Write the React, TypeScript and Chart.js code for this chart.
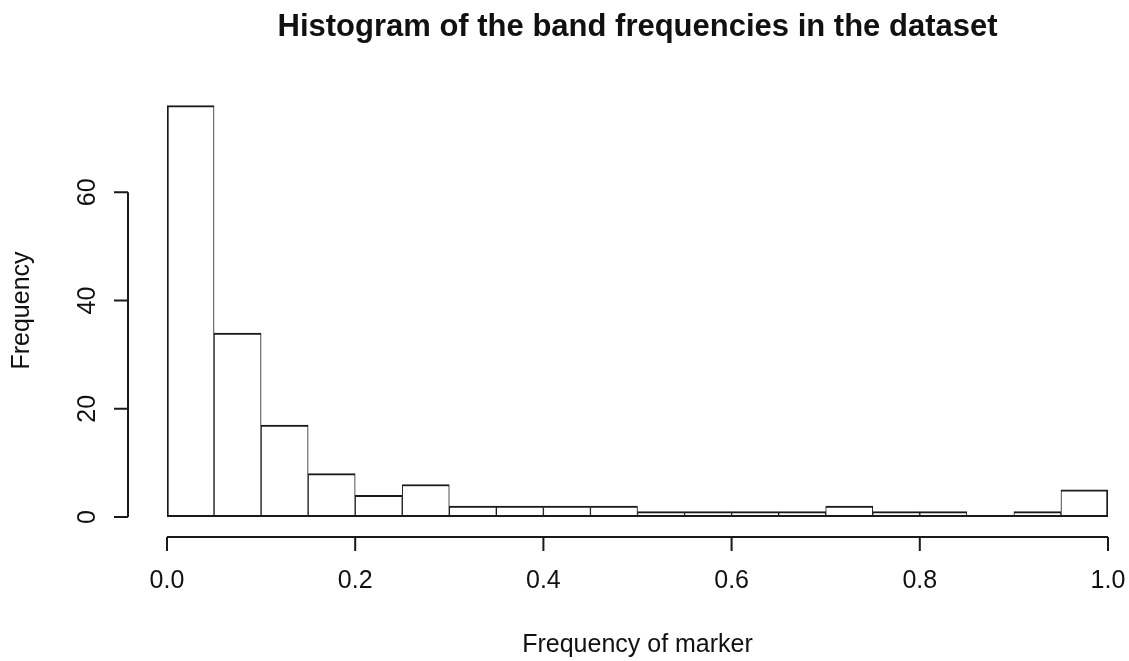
import React, { useEffect, useRef } from "react";
import { Chart, registerables } from "chart.js";

Chart.register(...registerables);

const binEdges = [0, 0.05, 0.1, 0.15, 0.2, 0.25, 0.3, 0.35, 0.4, 0.45, 0.5, 0.55, 0.6, 0.65, 0.7, 0.75, 0.8, 0.85, 0.9, 0.95, 1.0];
const counts = [76, 34, 17, 8, 4, 6, 2, 2, 2, 2, 1, 1, 1, 1, 2, 1, 1, 0, 1, 5];
const xTicks = [0, 0.2, 0.4, 0.6, 0.8, 1.0];
const xTickLabels = ["0.0", "0.2", "0.4", "0.6", "0.8", "1.0"];
const yTicks = [0, 20, 40, 60];
const yTickLabels = ["0", "20", "40", "60"];
const titleText = "Histogram of the band frequencies in the dataset";
const xTitle = "Frequency of marker";
const yTitle = "Frequency";

const FONT = '"Liberation Sans", Arial, sans-serif';
const INK = "#1a1a1a";

const rAxesPlugin = {
  id: "rAxes",
  afterDatasetsDraw(chart: any) {
    const ctx = chart.ctx;
    const xs = chart.scales.x;
    const ys = chart.scales.y;
    // baseline under bins (R draws zero-count bins as flat rectangles)
    ctx.save();
    ctx.strokeStyle = INK;
    ctx.lineWidth = 2;
    ctx.beginPath();
    ctx.moveTo(xs.getPixelForValue(binEdges[0]), ys.getPixelForValue(0) - 1);
    ctx.lineTo(xs.getPixelForValue(binEdges[binEdges.length - 1]), ys.getPixelForValue(0) - 1);
    ctx.stroke();
    ctx.restore();
  },
  afterDraw(chart: any) {
    const ctx = chart.ctx;
    const xs = chart.scales.x;
    const ys = chart.scales.y;
    const area = chart.chartArea;
    ctx.save();
    ctx.strokeStyle = INK;
    ctx.fillStyle = "#111";
    ctx.lineWidth = 2;

    // x axis
    const xAxisY = area.bottom + 20;
    const x0 = xs.getPixelForValue(xTicks[0]);
    const x1 = xs.getPixelForValue(xTicks[xTicks.length - 1]);
    ctx.beginPath();
    ctx.moveTo(x0, xAxisY);
    ctx.lineTo(x1, xAxisY);
    xTicks.forEach((t) => {
      const px = xs.getPixelForValue(t);
      ctx.moveTo(px, xAxisY);
      ctx.lineTo(px, xAxisY + 14);
    });
    ctx.stroke();
    ctx.font = "25px " + FONT;
    ctx.textAlign = "center";
    ctx.textBaseline = "middle";
    xTicks.forEach((t, i) => {
      ctx.fillText(xTickLabels[i], xs.getPixelForValue(t), xAxisY + 44);
    });

    // y axis
    const yAxisX = area.left - 39;
    const y0 = ys.getPixelForValue(yTicks[0]);
    const y1 = ys.getPixelForValue(yTicks[yTicks.length - 1]);
    ctx.beginPath();
    ctx.moveTo(yAxisX, y0);
    ctx.lineTo(yAxisX, y1);
    yTicks.forEach((t) => {
      const py = ys.getPixelForValue(t);
      ctx.moveTo(yAxisX, py);
      ctx.lineTo(yAxisX - 14, py);
    });
    ctx.stroke();
    yTicks.forEach((t, i) => {
      ctx.save();
      ctx.translate(yAxisX - 40, ys.getPixelForValue(t));
      ctx.rotate(-Math.PI / 2);
      ctx.fillText(yTickLabels[i], 0, 0);
      ctx.restore();
    });

    // axis titles
    ctx.fillText(xTitle, (area.left + area.right) / 2, 645);
    ctx.save();
    ctx.translate(22, (area.top + area.bottom) / 2 + 10);
    ctx.rotate(-Math.PI / 2);
    ctx.fillText(yTitle, 0, 0);
    ctx.restore();

    // main title
    ctx.font = "bold 31px " + FONT;
    ctx.fillText(titleText, (area.left + area.right) / 2, 27);
    ctx.restore();
  },
};

export default function App() {
  const ref = useRef<HTMLCanvasElement | null>(null);
  useEffect(() => {
    if (!ref.current) return;
    const points = counts.map((c, i) => ({ x: (binEdges[i] + binEdges[i + 1]) / 2, y: c }));
    const last = counts.length - 1;
    const chart = new Chart(ref.current, {
      type: "bar",
      data: {
        datasets: [
          {
            data: points,
            backgroundColor: "#ffffff",
            borderColor: INK,
            borderWidth: (c: any) => ({
              top: 2,
              bottom: 2,
              left: c.dataIndex === 0 ? 2 : 1,
              right: c.dataIndex === last ? 2 : 1,
            }),
            barPercentage: 1,
            categoryPercentage: 1,
          },
        ],
      },
      options: {
        animation: false,
        responsive: false,
        devicePixelRatio: 1,
        layout: { padding: { left: 167, right: 21, top: 84, bottom: 144 } },
        plugins: { legend: { display: false }, tooltip: { enabled: false }, title: { display: false } },
        scales: {
          x: { type: "linear", min: 0, max: 1, offset: false, display: false },
          y: { type: "linear", min: 0, max: 80, display: false },
        },
      },
      plugins: [rAxesPlugin],
    });
    return () => chart.destroy();
  }, []);
  return (
    <div style={{ position: "absolute", left: 0, top: 0, width: 1129, height: 661, background: "#fff" }}>
      <canvas ref={ref} width={1129} height={661} style={{ display: "block" }} />
    </div>
  );
}
